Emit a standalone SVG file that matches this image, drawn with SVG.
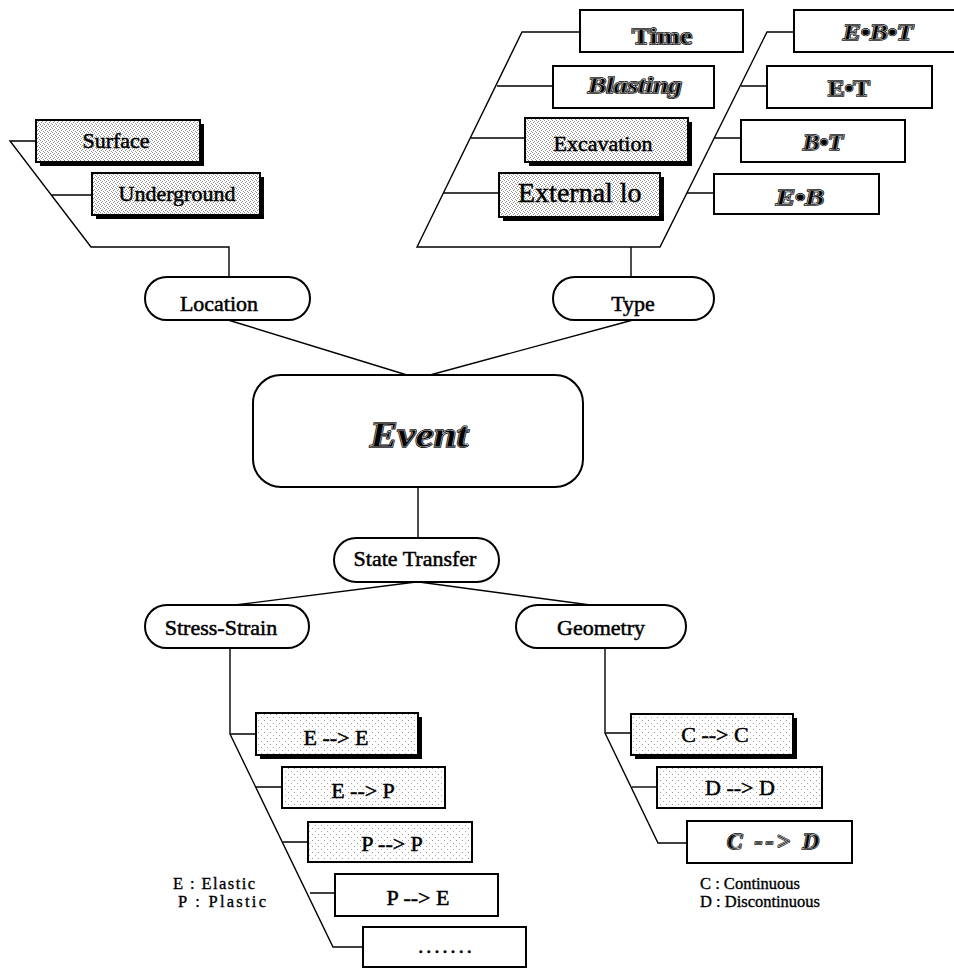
<svg xmlns="http://www.w3.org/2000/svg" width="954" height="969" viewBox="0 0 954 969">
  <style>
    .bg { fill: #fff; }
    .box { stroke: #000; stroke-width: 2; }
    .plain { fill: #fff; }
    .dense { fill: url(#stippleDense); }
    .light { fill: url(#stippleLight); }
    .shadow { fill: #000; }
    .pill { fill: #fff; stroke: #000; stroke-width: 2; }
    .wire { fill: none; stroke: #000; stroke-width: 1.4; }
    .lbl { font-family: "Liberation Serif", "Times New Roman", serif; font-size: 22px; fill: #000; stroke: #000; stroke-width: 0.5; text-anchor: middle; }
    .legend { font-family: "Liberation Serif", "Times New Roman", serif; font-size: 16.5px; fill: #000; stroke: #000; stroke-width: 0.35; }
    .fancy { font-family: "Liberation Serif", "Times New Roman", serif; font-weight: bold; font-size: 23px; text-anchor: middle; }
    .ink { fill: #000; stroke: #000; stroke-width: 1.8; stroke-linejoin: round; }
    .inline { fill: none; stroke: #fff; stroke-width: 0.4; }
    .it { font-style: italic; }
  </style>
  <defs>
    <pattern id="stippleDense" width="4" height="4" patternUnits="userSpaceOnUse">
      <rect width="4" height="4" fill="#fff"/>
      <rect x="0" y="0" width="1" height="1" fill="#888"/>
      <rect x="2" y="1" width="1" height="1" fill="#999"/>
      <rect x="1" y="2" width="1" height="1" fill="#888"/>
      <rect x="3" y="3" width="1" height="1" fill="#999"/>
    </pattern>
    <pattern id="stippleLight" width="6" height="6" patternUnits="userSpaceOnUse">
      <rect width="6" height="6" fill="#fff"/>
      <rect x="0" y="0" width="1" height="1" fill="#999"/>
      <rect x="3" y="3" width="1" height="1" fill="#aaa"/>
    </pattern>
    <clipPath id="clipExternal">
      <rect x="499" y="173" width="142" height="44"/>
    </clipPath>
  </defs>

  <rect class="bg" width="954" height="969"/>

  <!-- connectors -->
  <g id="connectors">
    <!-- location bracket -->
    <path class="wire" d="M36,141 H10 L91,247 H229 V277"/>
    <path class="wire" d="M52,195 H92"/>
    <!-- type bracket -->
    <path class="wire" d="M580,32 H522 L417,247 H660 L767,32 H794"/>
    <path class="wire" d="M497,86 H553 M471,138 H525 M444,193 H499"/>
    <path class="wire" d="M741,86 H767 M714,138 H741 M687,193 H714"/>
    <path class="wire" d="M631,247 V278"/>
    <!-- to event -->
    <path class="wire" d="M228,320 L407,375"/>
    <path class="wire" d="M633,320 L430,375"/>
    <path class="wire" d="M418,487 V538"/>
    <!-- state transfer split -->
    <path class="wire" d="M416,582 L235,605"/>
    <path class="wire" d="M419,582 L598,606"/>
    <!-- stress-strain bracket -->
    <path class="wire" d="M230,648 V734 H256 M230,734 L333,947 H363"/>
    <path class="wire" d="M256,787 H282 M283,842 H308 M310,893 H335"/>
    <!-- geometry bracket -->
    <path class="wire" d="M605,648 V733 H631 M605,733 L658,843 H687"/>
    <path class="wire" d="M632,787 H657"/>
  </g>

  <!-- location branch -->
  <g id="surface">
    <rect class="shadow" x="40" y="124" width="164" height="42"/>
    <rect class="box dense" x="36" y="120" width="164" height="42"/>
    <text class="lbl" x="116" y="148">Surface</text>
  </g>
  <g id="underground">
    <rect class="shadow" x="96" y="177" width="168" height="42"/>
    <rect class="box dense" x="92" y="173" width="168" height="42"/>
    <text class="lbl" x="177" y="201">Underground</text>
  </g>
  <g id="location">
    <rect class="pill" x="145" y="277" width="165" height="43" rx="21.5"/>
    <text class="lbl" x="219" y="311">Location</text>
  </g>

  <!-- type branch -->
  <g id="time">
    <rect class="box plain" x="580" y="10" width="163" height="42"/>
    <text class="fancy ink" x="662" y="44" textLength="60" lengthAdjust="spacingAndGlyphs">Time</text>
    <text class="fancy inline" x="662" y="44" textLength="60" lengthAdjust="spacingAndGlyphs">Time</text>
  </g>
  <g id="blasting">
    <rect class="box plain" x="553" y="66" width="161" height="42"/>
    <text class="fancy it ink" x="635" y="93" textLength="94" lengthAdjust="spacingAndGlyphs">Blasting</text>
    <text class="fancy it inline" x="635" y="93" textLength="94" lengthAdjust="spacingAndGlyphs">Blasting</text>
  </g>
  <g id="excavation">
    <rect class="shadow" x="529" y="122" width="163" height="44"/>
    <rect class="box dense" x="525" y="118" width="163" height="44"/>
    <text class="lbl" x="603" y="151">Excavation</text>
  </g>
  <g id="external-load">
    <rect class="shadow" x="503" y="177" width="161" height="44"/>
    <rect class="box dense" x="499" y="173" width="161" height="44"/>
    <text class="lbl" x="518" y="202" style="font-size:28px;text-anchor:start" clip-path="url(#clipExternal)">External lo</text>
  </g>
  <g id="ebt">
    <rect class="box plain" x="794" y="10" width="170" height="42"/>
    <text class="fancy it ink" x="878" y="40" textLength="70" lengthAdjust="spacingAndGlyphs">E•B•T</text>
    <text class="fancy it inline" x="878" y="40" textLength="70" lengthAdjust="spacingAndGlyphs">E•B•T</text>
  </g>
  <g id="et">
    <rect class="box plain" x="767" y="66" width="165" height="42"/>
    <text class="fancy ink" x="849" y="96" textLength="42" lengthAdjust="spacingAndGlyphs">E•T</text>
    <text class="fancy inline" x="849" y="96" textLength="42" lengthAdjust="spacingAndGlyphs">E•T</text>
  </g>
  <g id="bt">
    <rect class="box plain" x="741" y="120" width="164" height="42"/>
    <text class="fancy it ink" x="823" y="150" textLength="40" lengthAdjust="spacingAndGlyphs">B•T</text>
    <text class="fancy it inline" x="823" y="150" textLength="40" lengthAdjust="spacingAndGlyphs">B•T</text>
  </g>
  <g id="eb">
    <rect class="box plain" x="714" y="174" width="165" height="40"/>
    <text class="fancy it ink" x="800" y="205" textLength="48" lengthAdjust="spacingAndGlyphs">E•B</text>
    <text class="fancy it inline" x="800" y="205" textLength="48" lengthAdjust="spacingAndGlyphs">E•B</text>
  </g>
  <g id="type">
    <rect class="pill" x="553" y="277" width="161" height="43" rx="21.5"/>
    <text class="lbl" x="633" y="311">Type</text>
  </g>

  <!-- central event -->
  <g id="event">
    <rect class="box plain" x="253" y="375" width="330" height="112" rx="28"/>
    <text class="fancy it ink" x="419" y="447" style="font-size:36px" textLength="98" lengthAdjust="spacingAndGlyphs">Event</text>
    <text class="fancy it inline" x="419" y="447" style="font-size:36px" textLength="98" lengthAdjust="spacingAndGlyphs">Event</text>
  </g>
  <g id="state-transfer">
    <rect class="pill" x="334" y="538" width="165" height="44" rx="22"/>
    <text class="lbl" x="415" y="566">State Transfer</text>
  </g>
  <g id="stress-strain">
    <rect class="pill" x="145" y="605" width="164" height="43" rx="21.5"/>
    <text class="lbl" x="221" y="635">Stress-Strain</text>
  </g>
  <g id="geometry">
    <rect class="pill" x="516" y="605" width="170" height="43" rx="21.5"/>
    <text class="lbl" x="601" y="635">Geometry</text>
  </g>

  <!-- stress-strain transitions -->
  <g id="e-e">
    <rect class="shadow" x="260" y="717" width="162" height="42"/>
    <rect class="box light" x="256" y="713" width="162" height="42"/>
    <text class="lbl" x="336" y="745">E --&gt; E</text>
  </g>
  <g id="e-p">
    <rect class="box light" x="282" y="767" width="163" height="41"/>
    <text class="lbl" x="363" y="798">E --&gt; P</text>
  </g>
  <g id="p-p">
    <rect class="box light" x="308" y="822" width="164" height="40"/>
    <text class="lbl" x="392" y="851">P --&gt; P</text>
  </g>
  <g id="p-e">
    <rect class="box plain" x="335" y="874" width="163" height="42"/>
    <text class="lbl" x="418" y="905">P --&gt; E</text>
  </g>
  <g id="more">
    <rect class="box plain" x="363" y="927" width="163" height="40"/>
    <text class="lbl" x="445" y="953" textLength="54">.......</text>
  </g>
  <g id="legend-material">
    <text class="legend" x="173" y="889" textLength="82">E : Elastic</text>
    <text class="legend" x="178" y="907" textLength="88">P : Plastic</text>
  </g>

  <!-- geometry transitions -->
  <g id="c-c">
    <rect class="shadow" x="635" y="718" width="162" height="41"/>
    <rect class="box light" x="631" y="714" width="162" height="41"/>
    <text class="lbl" x="715" y="742">C --&gt; C</text>
  </g>
  <g id="d-d">
    <rect class="box light" x="657" y="767" width="165" height="41"/>
    <text class="lbl" x="740" y="795">D --&gt; D</text>
  </g>
  <g id="c-d">
    <rect class="box plain" x="687" y="821" width="165" height="42"/>
    <text class="fancy it ink" x="773" y="849" textLength="92">C --&gt; D</text>
    <text class="fancy it inline" x="773" y="849" textLength="92">C --&gt; D</text>
  </g>
  <g id="legend-geometry">
    <text class="legend" x="700" y="889" textLength="100">C : Continuous</text>
    <text class="legend" x="700" y="907" textLength="120">D : Discontinuous</text>
  </g>
</svg>
